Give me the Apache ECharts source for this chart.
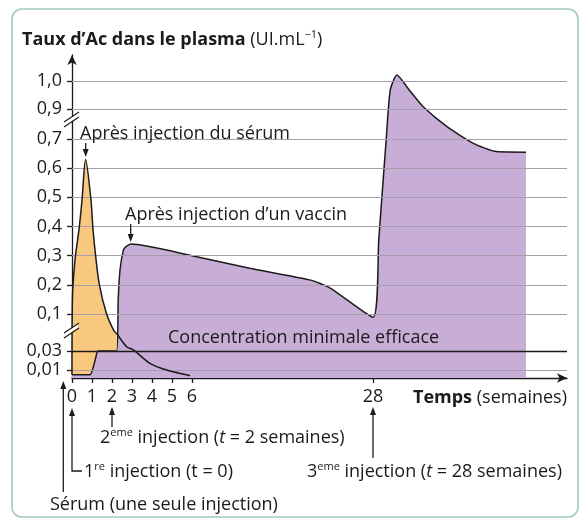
<!DOCTYPE html>
<html>
<head>
<meta charset="utf-8">
<script src="https://cdn.jsdelivr.net/npm/echarts@6/dist/echarts.min.js"></script>
<style>
  html, body { margin: 0; padding: 0; background: #fff; }
  #chart { width: 579px; height: 519px; }
</style>
</head>
<body>
<div id="chart"></div>
<script>
// temps (semaines) / taux d'Ac (UI.mL-1)
var serumT = [0, 0.02, 0.15, 0.35, 0.5, 0.68, 0.95, 1.05, 1.18, 1.37, 1.73, 2.1, 2.23, 2.73, 3.07, 3.9, 4.73, 5.73, 5.9];
var serumV = [0.004, 0.15, 0.285, 0.39, 0.49, 0.63, 0.49, 0.39, 0.3, 0.2, 0.1, 0.068, 0.063, 0.038, 0.032, 0.017, 0.01, 0.004, 0.003];

var vaccinT = [0, 0.9, 1.05, 1.2, 1.3, 2.23, 2.31, 2.4, 2.57, 2.7, 2.95, 6, 13, 20.3, 22.8, 28, 28.7, 29.6, 30.1, 30.9, 32.5, 34.1, 37, 40.2, 43, 46.6];
var vaccinV = [0.004, 0.004, 0.012, 0.024, 0.03, 0.03, 0.148, 0.251, 0.319, 0.331, 0.34, 0.30, 0.257, 0.217, 0.189, 0.094, 0.354, 0.697, 0.968, 1.021, 0.964, 0.908, 0.782, 0.685, 0.657, 0.655];

var weekTicks = [0, 1, 2, 3, 4, 5, 6, 28];
var tauxTicks = [0.01, 0.03, 0.1, 0.2, 0.3, 0.4, 0.5, 0.6, 0.7, 0.9, 1.0];
var tauxLabels = ['0,01', '0,03', '0,1', '0,2', '0,3', '0,4', '0,5', '0,6', '0,7', '0,9', '1,0'];
var seuil = 0.03;        // concentration minimale efficace
var finSerum = 2.23;     // la zone orange s'arrete a la 2eme injection

// axes coupes : echelle lineaire en "unites ecran", on y projette les valeurs
var yKnots = [[0, 0], [0.01, 8], [0.03, 27], [0.1, 64], [0.7, 239], [0.9, 269], [1.0, 297], [1.1, 325]];
function yPos(v) {
  for (var i = 1; i < yKnots.length; i++) {
    var a = yKnots[i - 1], b = yKnots[i];
    if (v <= b[0] || i === yKnots.length - 1) {
      return a[1] + (v - a[0]) * (b[1] - a[1]) / (b[0] - a[0]);
    }
  }
}
function xPos(t) {
  return t <= 6 ? t * 20 : 120 + (t - 6) * 181 / 22;
}
function pts(ts, vs) {
  return ts.map(function (t, i) { return [xPos(t), yPos(vs[i])]; });
}

var FONT = '"Open Sans", sans-serif';
var FS = 18;
var INK = '#1c1a1b';
var X_MAX = 495;

var chart = echarts.init(document.getElementById('chart'), null, { renderer: 'canvas' });

var serumFill = pts(serumT, serumV).filter(function (p, i) { return serumT[i] <= finSerum; });

function arrowHead(x, y, dir) {
  // dir: 1 = pointe vers le bas, -1 = vers le haut
  return {
    type: 'polygon', z: 100,
    shape: { points: [[x, y], [x - 3, y - 8 * dir], [x + 3, y - 8 * dir]] },
    style: { fill: INK }
  };
}
function vArrow(x, y1, y2) {
  var dir = y2 > y1 ? 1 : -1;
  return [
    { type: 'line', z: 100, shape: { x1: x, y1: y1, x2: x, y2: y2 - 6 * dir }, style: { stroke: INK, lineWidth: 1.3 } },
    arrowHead(x, y2, dir)
  ];
}
function txt(x, y, text) {
  return {
    type: 'text', z: 100, x: x, y: y,
    style: {
      text: text, fill: INK, font: FS + 'px ' + FONT, textVerticalAlign: 'middle',
      rich: {
        b: { fontWeight: 'bold', fontSize: FS, fontFamily: FONT, lineHeight: 22 },
        i: { fontStyle: 'italic', fontSize: FS, fontFamily: FONT, lineHeight: 22 },
        s: { fontSize: 11, fontFamily: FONT, verticalAlign: 'top', lineHeight: 22 },
        n: { fontSize: FS, fontFamily: FONT, lineHeight: 22 }
      }
    }
  };
}
function breakMark(x, y) {
  return [
    { type: 'polygon', z: 90, shape: { points: [[x - 6, y + 5], [x + 6, y - 3], [x + 6, y - 7], [x - 6, y + 1]] }, style: { fill: '#fff' } },
    { type: 'line', z: 91, shape: { x1: x - 8, y1: y + 7, x2: x + 7, y2: y - 3 }, style: { stroke: INK, lineWidth: 1.2 } },
    { type: 'line', z: 91, shape: { x1: x - 8, y1: y + 2, x2: x + 7, y2: y - 8 }, style: { stroke: INK, lineWidth: 1.2 } }
  ];
}

var graphics = [
  { type: 'rect', z: 0, shape: { x: 12, y: 9, width: 566, height: 508, r: 10 }, style: { fill: 'none', stroke: '#a3c7c6', lineWidth: 1.6 } },
  txt(22, 40, '{b|Taux d\u2019Ac dans le plasma} {n|(UI.mL}{s|\u22121}{n|)}'),
  txt(80, 134, '{n|Apr\u00e8s injection du s\u00e9rum}'),
  txt(125, 215, '{n|Apr\u00e8s injection d\u2019un vaccin}'),
  txt(168, 338, '{n|Concentration minimale efficace}'),
  txt(413, 398, '{b|Temps}{n| (semaines)}'),
  txt(100, 438, '{n|2}{s|eme}{n| injection (}{i|t}{n| = 2 semaines)}'),
  txt(84, 472, '{n|1}{s|re}{n| injection (t = 0)}'),
  txt(307, 472, '{n|3}{s|eme}{n| injection (}{i|t}{n| = 28 semaines)}'),
  txt(50, 505, '{n|S\u00e9rum (une seule injection)}'),
  { type: 'polyline', z: 100, shape: { points: [[82, 471], [72, 471], [72, 414]] }, style: { stroke: INK, lineWidth: 1.3, fill: 'none' } },
  arrowHead(72, 408, -1)
]
  .concat(vArrow(85.7, 143, 157))
  .concat(vArrow(130.7, 224, 242))
  .concat(vArrow(112, 427, 407))
  .concat(vArrow(373, 458, 407))
  .concat(vArrow(63.3, 492, 381))
  .concat(breakMark(72, 120))
  .concat(breakMark(72, 331));

var option = {
  animation: false,
  backgroundColor: '#ffffff',
  textStyle: { fontFamily: FONT },
  grid: { left: 72, right: 12, top: 55, bottom: 141, outerBoundsMode: 'none', containLabel: false },
  xAxis: {
    type: 'value', min: 0, max: X_MAX,
    axisLine: { show: true, symbol: ['none', 'arrow'], symbolSize: [7, 10], lineStyle: { color: INK, width: 1.3 } },
    axisTick: { show: true, length: 5, inside: false, customValues: weekTicks.map(xPos), lineStyle: { color: INK, width: 1.3 } },
    axisLabel: {
      show: true, margin: 10, color: INK, fontSize: FS, fontFamily: FONT,
      customValues: weekTicks.map(xPos),
      formatter: function (val) {
        for (var i = 0; i < weekTicks.length; i++) {
          if (Math.abs(xPos(weekTicks[i]) - val) < 0.01) return String(weekTicks[i]);
        }
        return '';
      }
    },
    splitLine: { show: false }
  },
  yAxis: {
    type: 'value', min: 0, max: 323,
    axisLine: { show: true, symbol: ['none', 'arrow'], symbolSize: [7, 10], lineStyle: { color: INK, width: 1.3 } },
    axisTick: { show: true, length: 5, inside: false, customValues: tauxTicks.map(yPos), lineStyle: { color: INK, width: 1.3 } },
    axisLabel: {
      show: true, margin: 10, color: INK, fontSize: FS, fontFamily: FONT,
      customValues: tauxTicks.map(yPos),
      formatter: function (val) {
        for (var i = 0; i < tauxTicks.length; i++) {
          if (Math.abs(yPos(tauxTicks[i]) - val) < 0.01) return tauxLabels[i];
        }
        return '';
      }
    },
    splitLine: { show: false }
  },
  series: [
    {
      name: 'serum-zone', type: 'line', z: 1, data: serumFill, smooth: 0.3,
      symbol: 'none', lineStyle: { opacity: 0 },
      areaStyle: { color: '#f9c87f', opacity: 1 }
    },
    {
      name: 'vaccin', type: 'line', z: 2, data: pts(vaccinT, vaccinV), smooth: 0.2,
      symbol: 'none', lineStyle: { color: INK, width: 1.5 },
      areaStyle: { color: '#c8aed6', opacity: 1 }
    },
    {
      // lignes de grille par-dessus les aires colorees
      name: 'grille', type: 'lines', coordinateSystem: 'cartesian2d', z: 3, silent: true,
      lineStyle: { color: '#a69fab', width: 1.2, opacity: 1, curveness: 0 },
      data: tauxTicks.filter(function (v) { return v !== seuil; }).map(function (v) {
        return { coords: [[0, yPos(v)], [X_MAX, yPos(v)]] };
      })
    },
    {
      name: 'seuil', type: 'lines', coordinateSystem: 'cartesian2d', z: 4, silent: true,
      lineStyle: { color: INK, width: 1.4, opacity: 1, curveness: 0 },
      data: [{ coords: [[0, yPos(seuil)], [X_MAX, yPos(seuil)]] }]
    },
    {
      name: 'serum', type: 'line', z: 5, data: pts(serumT, serumV), smooth: 0.3,
      symbol: 'none', lineStyle: { color: INK, width: 1.5 }
    }
  ],
  graphic: graphics
};

chart.setOption(option);
</script>
</body>
</html>
